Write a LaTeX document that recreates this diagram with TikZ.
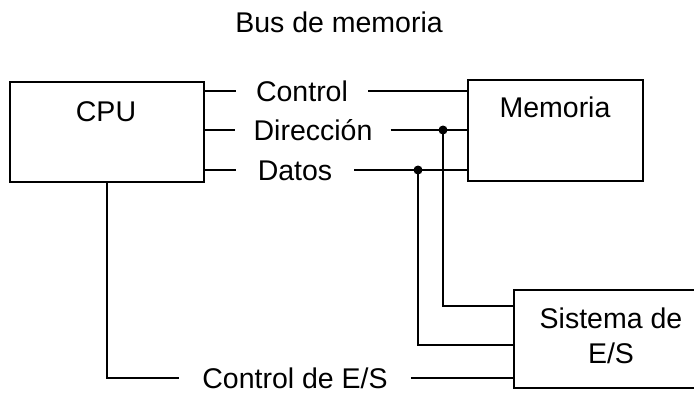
\documentclass[tikz,border=0pt]{standalone}
\usepackage{fontspec}
\setmainfont{Liberation Sans}
\begin{document}
\begin{tikzpicture}[x=1pt,y=-1pt,
  every node/.style={font=\fontsize{28.5}{35}\selectfont},
  box/.style={draw, line width=2pt, inner sep=0pt},
  lbl/.style={inner xsep=20pt, inner ysep=0pt, text height=20.5pt, text depth=0pt},
  txt/.style={inner sep=0pt, text height=20.5pt, text depth=0pt},
  wire/.style={line width=2pt},
  junction/.style={circle, fill, inner sep=0pt, minimum size=9pt}]
\fill[white] (0,0) rectangle (694,392);
\clip (0,0) rectangle (694,392);
\useasboundingbox (0,0) rectangle (694,392);
% boxes
\node[box, minimum width=194pt, minimum height=100pt] (cpu) at (107,132) {};
\node[box, minimum width=175pt, minimum height=101pt] (mem) at (555.5,130.5) {};
\node[box, minimum width=190pt, minimum height=98pt] (sis) at (609,339) {};
% box texts
\node[txt] (cputxt) at (106,111) {CPU};
\node[txt] (memtxt) at (555,107.5) {Memoria};
\node[inner sep=0pt, align=center] (sistxt) at (611,336) {Sistema de\\E/S};
\node[txt] (bus) at (339,22) {Bus de memoria};
% bus labels
\node[lbl] (ctrl) at (302,91) {Control};
\node[lbl, inner xsep=18pt] (dir) at (313,130) {Dirección};
\node[lbl, inner xsep=22pt] (dat) at (295,170) {Datos};
\node[lbl, inner xsep=23pt] (ctrlio) at (295,378) {Control de E/S};
% junctions
\node[junction] (j1) at (443,130) {};
\node[junction] (j2) at (418,170) {};
% wires
\draw[wire] (cpu.east |- ctrl.west) -- (ctrl.west);
\draw[wire] (ctrl.east) -- (mem.west |- ctrl.east);
\draw[wire] (cpu.east |- dir.west) -- (dir.west);
\draw[wire] (dir.east) -- (mem.west |- dir.east);
\draw[wire] (cpu.east |- dat.west) -- (dat.west);
\draw[wire] (dat.east) -- (mem.west |- dat.east);
\draw[wire] (j1.center) |- ([yshift=-17pt]sis.north west);
\draw[wire] (j2.center) |- ([yshift=-56pt]sis.north west);
\draw[wire] (cpu.south) |- (ctrlio.west);
\draw[wire] (ctrlio.east) -- (sis.west |- ctrlio.east);
\end{tikzpicture}
\end{document}
